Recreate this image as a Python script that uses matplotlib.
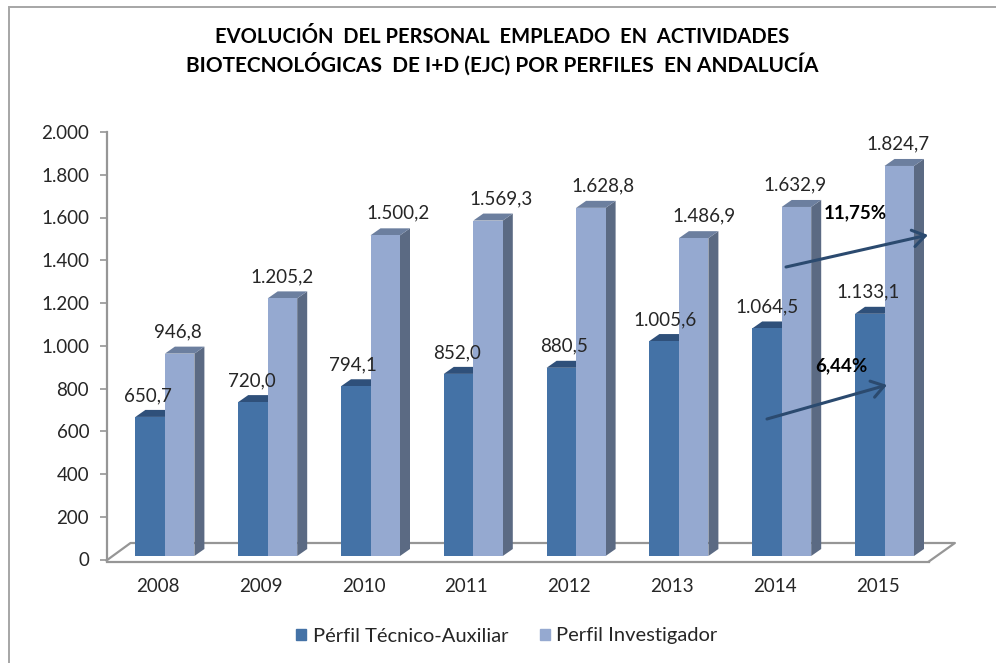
import matplotlib
matplotlib.use("Agg")
import matplotlib.pyplot as plt
from matplotlib.patches import Patch, Rectangle

plt.rcParams["font.family"] = ["Lato", "DejaVu Sans"]

years = ["2008", "2009", "2010", "2011", "2012", "2013", "2014", "2015"]
tecnico = [650.7, 720.0, 794.1, 852.0, 880.5, 1005.6, 1064.5, 1133.1]
investigador = [946.8, 1205.2, 1500.2, 1569.3, 1628.8, 1486.9, 1632.9, 1824.7]
tecnico_labels = ["650,7", "720,0", "794,1", "852,0", "880,5", "1.005,6", "1.064,5", "1.133,1"]
investigador_labels = ["946,8", "1.205,2", "1.500,2", "1.569,3", "1.628,8", "1.486,9", "1.632,9", "1.824,7"]
yticks = [0, 200, 400, 600, 800, 1000, 1200, 1400, 1600, 1800, 2000]
ytick_labels = ["0", "200", "400", "600", "800", "1.000", "1.200", "1.400", "1.600", "1.800", "2.000"]

W, H = 996, 663
DARK, DARK_TOP = "#4472a6", "#2f507a"
LIGHT, LIGHT_TOP, LIGHT_SIDE = "#95a9d0", "#6c7f9f", "#5b6a83"
GREY = "#969696"
TEXT = "#262626"

fig = plt.figure(figsize=(W / 100, H / 100), dpi=100)
ax = fig.add_axes([106.5 / W, (H - 559.5) / H, 822.4 / W, 427.5 / H])
ax.set_xlim(-0.5, 7.5)
ax.set_ylim(0, 2000)

# pixel -> data units
px = 1 / 102.8
py = 2000 / 427.5
base = 3.5 * py
depth_x, depth_y = 10 * px, 7 * py
shift = 7 * px
bar_w = 29.5 * px


def box(x0, value, front, top, side=None):
    y1 = base + value
    if side:
        ax.fill([x0 + bar_w, x0 + bar_w + depth_x, x0 + bar_w + depth_x, x0 + bar_w],
                [base, base + depth_y, y1 + depth_y, y1], color=side, lw=0, zorder=3, clip_on=False)
    ax.fill([x0, x0 + depth_x, x0 + bar_w + depth_x, x0 + bar_w],
            [y1, y1 + depth_y, y1 + depth_y, y1], color=top, lw=0, zorder=3, clip_on=False)
    ax.fill([x0, x0 + bar_w, x0 + bar_w, x0], [base, base, y1, y1], color=front, lw=0, zorder=4, clip_on=False)


# suelo 3D
ax.plot([-0.5, -0.5 + 24 * px, 7.5 + 26 * px, 7.5], [-1 * py, 16.5 * py, 16.5 * py, -2 * py],
        color=GREY, lw=1.6, zorder=1, clip_on=False)

for i in range(len(years)):
    x_dark = i + shift - bar_w
    box(x_dark, tecnico[i], DARK, DARK_TOP)
    box(i + shift, investigador[i], LIGHT, LIGHT_TOP, LIGHT_SIDE)

# desplazamiento a mano de las etiquetas (px)
tec_dx = [-2, -1, -3, -1, 3, 1, 0, -2]
inv_dx = [-2, 0, 13, 13, 12, 10, -1, -1]
for i in range(len(years)):
    ax.text(i + shift - bar_w / 2 + tec_dx[i] * px, base + tecnico[i] + 21.5 * py, tecnico_labels[i],
            ha="center", va="center", fontsize=13.5, color=TEXT, zorder=6)
    ax.text(i + shift + bar_w / 2 + inv_dx[i] * px, base + investigador[i] + 22 * py, investigador_labels[i],
            ha="center", va="center", fontsize=13.5, color=TEXT, zorder=6)

for sp in ["top", "right"]:
    ax.spines[sp].set_visible(False)
ax.spines["left"].set_color(GREY)
ax.spines["left"].set_linewidth(1.6)
ax.spines["bottom"].set_color(GREY)
ax.spines["bottom"].set_linewidth(1.6)
ax.spines["bottom"].set_position(("outward", 1.5))
ax.set_yticks(yticks)
ax.set_yticklabels(ytick_labels, fontsize=13.5, color=TEXT)
ax.set_xticks(range(len(years)))
ax.set_xticklabels(years, fontsize=13.5, color=TEXT)
ax.tick_params(axis="y", length=5, width=1.2, color=GREY, pad=7.5)
ax.tick_params(axis="x", length=0, pad=12)


def fx(x):
    return x / W


def fy(y):
    return 1 - y / H


# flechas y porcentajes
for start, end in [((786, 267), (928, 235)), ((767, 419), (887, 385))]:
    fig.add_artist(matplotlib.patches.FancyArrowPatch(
        (fx(start[0]), fy(start[1])), (fx(end[0]), fy(end[1])), transform=fig.transFigure,
        arrowstyle="->,head_length=9,head_width=6", color="#2b4a6f", lw=2.2, zorder=8, shrinkA=0, shrinkB=0))
fig.text(fx(855), fy(213), "11,75%", ha="center", va="center", fontsize=13.5, fontweight="bold", color="black", zorder=9)
fig.text(fx(841), fy(366), "6,44%", ha="center", va="center", fontsize=13.5, fontweight="bold", color="black", zorder=9)

fig.text(fx(502), fy(37), "EVOLUCIÓN  DEL PERSONAL  EMPLEADO  EN  ACTIVIDADES", ha="center", va="center",
         fontsize=14.5, fontweight="bold", color="black")
fig.text(fx(502), fy(64), "BIOTECNOLÓGICAS  DE I+D (EJC) POR PERFILES  EN ANDALUCÍA", ha="center", va="center",
         fontsize=15, fontweight="bold", color="black")

handles = [Patch(color=DARK, label="Pérfil Técnico-Auxiliar"), Patch(color=LIGHT, label="Perfil Investigador")]
fig.legend(handles=handles, loc="center", bbox_to_anchor=(fx(507), fy(636)), ncol=2, frameon=False,
           fontsize=14.5, labelcolor=TEXT, handlelength=0.5, handleheight=0.5, handletextpad=0.3, columnspacing=1.6)

# marco del gráfico
fig.add_artist(Rectangle((fx(9), fy(700)), 1.2, fy(6.5) - fy(700), transform=fig.transFigure,
                         fill=False, edgecolor="#a6a6a6", lw=1.4))

fig.savefig("out.png", dpi=100)
